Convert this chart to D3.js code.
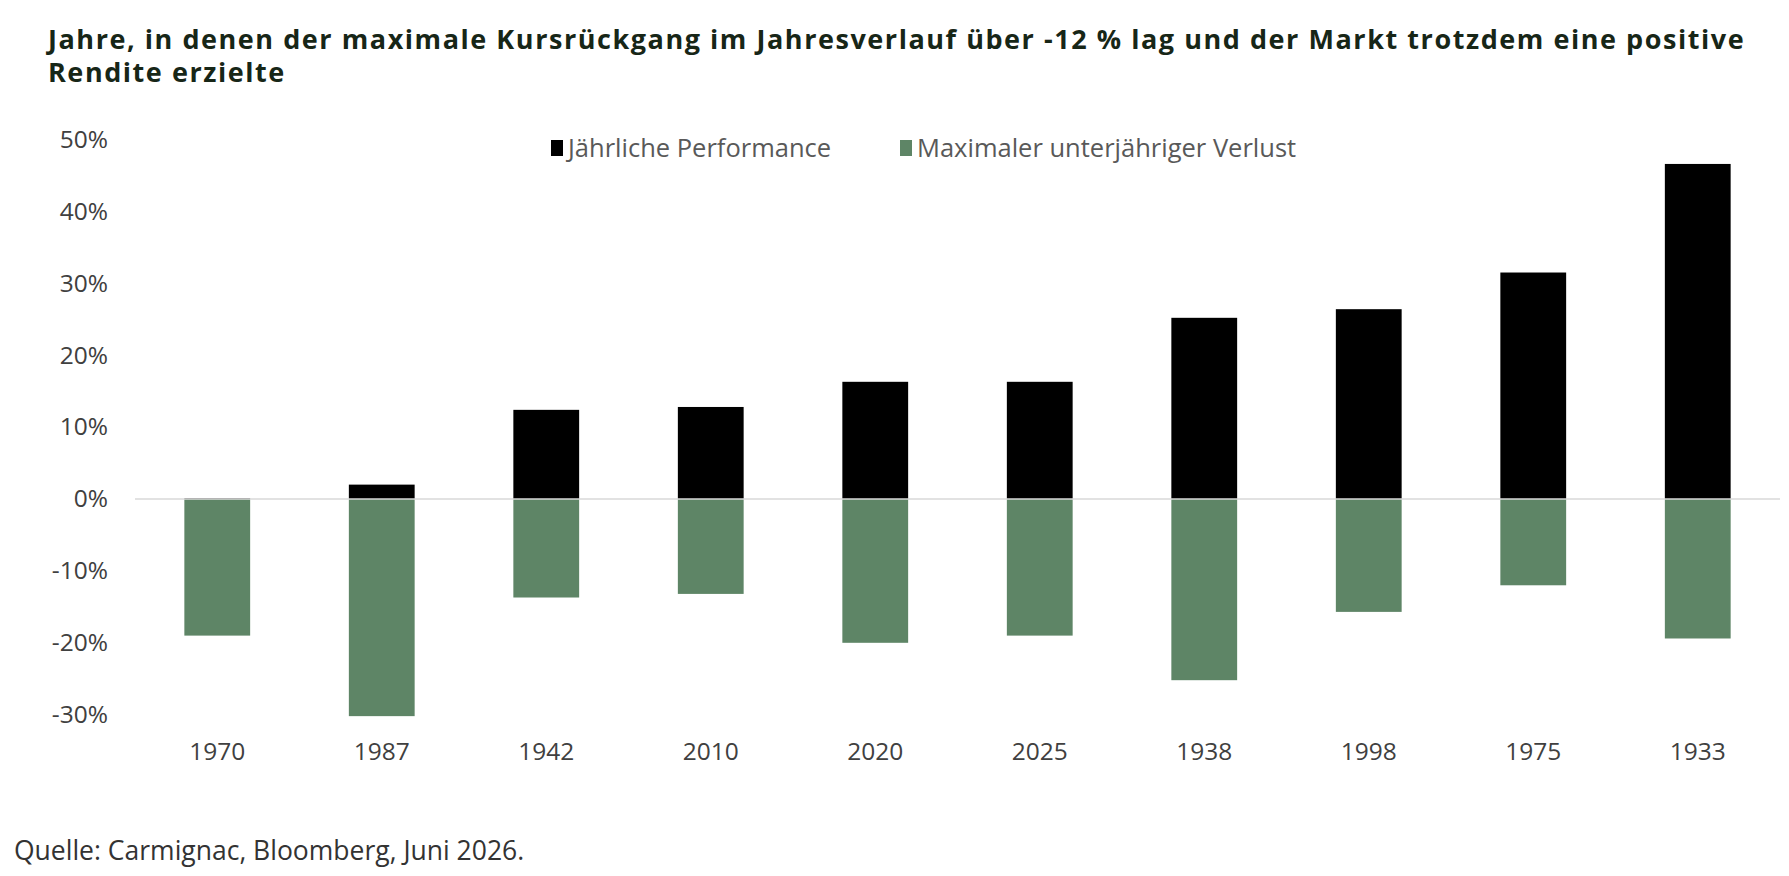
<!DOCTYPE html>
<html>
<head>
<meta charset="utf-8">
<script src="https://cdn.jsdelivr.net/npm/d3@7"></script>
<style>
  html, body { margin: 0; padding: 0; background: #fff; }
  svg { display: block; font-family: "Open Sans", sans-serif; }
</style>
</head>
<body>
<svg id="chart" width="1789" height="876"></svg>
<script>
const years = ["1970", "1987", "1942", "2010", "2020", "2025", "1938", "1998", "1975", "1933"];
const performance = [0.1, 2.0, 12.4, 12.8, 16.3, 16.3, 25.2, 26.4, 31.5, 46.6];
const maxLoss = [-19.0, -30.2, -13.7, -13.2, -20.0, -19.0, -25.2, -15.7, -12.0, -19.4];
const yTicks = [50, 40, 30, 20, 10, 0, -10, -20, -30];
const seriesNames = ["Jährliche Performance", "Maximaler unterjähriger Verlust"];
const seriesColors = ["#000000", "#5e8566"];
const titleLines = [
  "Jahre, in denen der maximale Kursrückgang im Jahresverlauf über -12 % lag und der Markt trotzdem eine positive",
  "Rendite erzielte"
];
const sourceText = "Quelle: Carmignac, Bloomberg, Juni 2026.";

const svg = d3.select("#chart");

const x = d3.scaleBand().domain(years).range([135, 1780]).paddingInner(0.6).paddingOuter(0.3);
const y = d3.scaleLinear().domain([-30, 50]).range([714.7, 139.5]);

// title (one wrapped text block)
const title = svg.append("text")
  .attr("x", 48).attr("y", 49)
  .attr("font-size", 27).attr("font-weight", 700)
  .attr("letter-spacing", 1.55)
  .attr("fill", "#172617");
title.selectAll("tspan").data(titleLines).join("tspan")
  .attr("x", 48).attr("dy", (d, i) => i === 0 ? 0 : 33)
  .text(d => d);

// y axis labels
const yAxis = d3.axisLeft(y).tickValues(yTicks).tickSize(0).tickPadding(0)
  .tickFormat(d => d + "%");
const gy = svg.append("g").attr("transform", "translate(108,0)").call(yAxis);
gy.select(".domain").remove();
gy.selectAll("text").attr("font-size", 24.5).attr("fill", "#404040")
  .attr("font-family", "'Open Sans', sans-serif");

// bars
const perfData = years.map((yr, i) => ({ yr, v: performance[i] }));
const lossData = years.map((yr, i) => ({ yr, v: maxLoss[i] }));

svg.append("g").selectAll("rect").data(lossData).join("rect")
  .attr("x", d => x(d.yr)).attr("width", x.bandwidth())
  .attr("y", y(0)).attr("height", d => y(d.v) - y(0))
  .attr("fill", seriesColors[1]);

svg.append("g").selectAll("rect").data(perfData).join("rect")
  .attr("x", d => x(d.yr)).attr("width", x.bandwidth())
  .attr("y", d => y(d.v)).attr("height", d => y(0) - y(d.v))
  .attr("fill", seriesColors[0]);

// zero line
svg.append("line")
  .attr("x1", 135).attr("x2", 1780)
  .attr("y1", y(0)).attr("y2", y(0))
  .attr("stroke", "#d9d9d9").attr("stroke-width", 1.5);

// x axis labels
const xAxis = d3.axisBottom(x).tickSize(0).tickPadding(0);
const gx = svg.append("g").attr("transform", "translate(0,742.5)").call(xAxis);
gx.select(".domain").remove();
gx.selectAll("text").attr("font-size", 24.5).attr("fill", "#404040")
  .attr("font-family", "'Open Sans', sans-serif");

// legend
const legendX = [551, 900];
const leg = svg.append("g").selectAll("g").data(seriesNames).join("g")
  .attr("transform", (d, i) => `translate(${legendX[i]},148)`);
leg.append("rect").attr("x", 0).attr("y", -8).attr("width", 12).attr("height", 16)
  .attr("fill", (d, i) => seriesColors[i]);
leg.append("text").attr("x", 17).attr("y", 9.2)
  .attr("font-size", 25.5).attr("fill", "#595959")
  .text(d => d);

// source
svg.append("text").attr("x", 14).attr("y", 860)
  .attr("font-size", 26.5).attr("fill", "#333333")
  .text(sourceText);
</script>
</body>
</html>
